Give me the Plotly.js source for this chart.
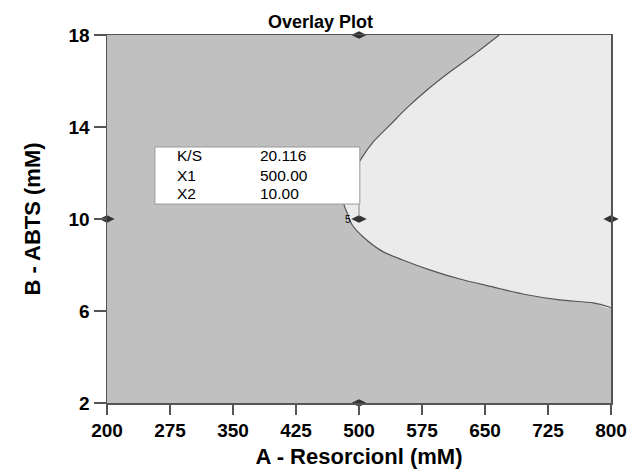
<!DOCTYPE html>
<html><head><meta charset="utf-8">
<script src="https://cdn.plot.ly/plotly-3.0.1.min.js"></script>
<style>html,body{margin:0;padding:0;background:#fff}#plot{width:641px;height:474px}</style>
</head><body><div id="plot"></div>
<script>
// Boundary of the light (feasible) region: A (mM) and B (mM)
const curveA = [667, 636, 608, 581, 557, 537, 517, 504, 495, 488, 483, 482, 486, 492, 505, 529, 552, 585, 620, 660, 695, 739, 779, 800];
const curveB = [18.0, 17.13, 16.39, 15.61, 14.83, 14.09, 13.35, 12.70, 12.13, 11.48, 10.91, 10.65, 10.26, 9.74, 9.22, 8.57, 8.22, 7.78, 7.39, 7.04, 6.74, 6.48, 6.35, 6.15];
// Design points
const designA = [200, 500, 500, 500, 800];
const designB = [10, 18, 10, 2, 10];
// Flag readout
const flagLabels = ['K/S', 'X1', 'X2'];
const flagValues = ['20.116', '500.00', '10.00'];
const xTicks = [200, 275, 350, 425, 500, 575, 650, 725, 800];
const yTicks = [2, 6, 10, 14, 18];
const xRange = [200, 800], yRange = [2, 18];

const fillA = curveA.concat([xRange[1]]);
const fillB = curveB.concat([yRange[1]]);

const traces = [
  {x: fillA, y: fillB, type: 'scatter', mode: 'lines', fill: 'toself', fillcolor: '#ebebeb', line: {width: 0, shape: 'spline', smoothing: 0.8}, hoverinfo: 'skip'},
  {x: curveA, y: curveB, type: 'scatter', mode: 'lines', line: {color: '#555', width: 1.2, shape: 'spline', smoothing: 0.8}, hoverinfo: 'skip'},
  {x: designA, y: designB, type: 'scatter', mode: 'markers', cliponaxis: false,
   marker: {symbol: 'diamond-wide', size: 11, color: '#333'}}
];

const font = 'Liberation Sans, Arial, sans-serif';
const annotations = [];
const rowY = [12.74, 11.91, 11.09];
flagLabels.forEach((l, i) => {
  annotations.push({x: 281, y: rowY[i], text: l, showarrow: false, xanchor: 'left', font: {family: font, size: 15.5, color: '#000'}});
  annotations.push({x: 380, y: rowY[i], text: flagValues[i], showarrow: false, xanchor: 'left', font: {family: font, size: 15.5, color: '#000'}});
});
annotations.push({x: 500, y: 10, text: '5', showarrow: false, xshift: -11, font: {family: font, size: 10, color: '#000'}});

const layout = {
  width: 641, height: 474,
  margin: {l: 107, r: 30, t: 35, b: 71},
  paper_bgcolor: '#fff', plot_bgcolor: '#c0c0c0',
  showlegend: false,
  title: {text: '<b>Overlay Plot</b>', font: {family: font, size: 18, color: '#000'}, x: 0.5, xanchor: 'center', y: 0.968, yanchor: 'top'},
  xaxis: {range: xRange, tickvals: xTicks, ticktext: xTicks.map(v => '<b>' + v + '</b>'),
    showgrid: false, zeroline: false, showline: true, mirror: true, linecolor: '#555', linewidth: 1.5,
    ticks: 'outside', ticklen: 10, tickcolor: '#555', tickwidth: 1.2,
    tickfont: {family: font, size: 19, color: '#000'},
    title: {text: '<b>A - Resorcionl (mM)</b>', font: {family: font, size: 22, color: '#000'}, standoff: 8}},
  yaxis: {range: yRange, tickvals: yTicks, ticktext: yTicks.map(v => '<b>' + v + '</b>'),
    showgrid: false, zeroline: false, showline: true, mirror: true, linecolor: '#555', linewidth: 1.5,
    ticks: 'outside', ticklen: 12, tickcolor: '#555', tickwidth: 1.2,
    tickfont: {family: font, size: 19, color: '#000'},
    title: {text: '<b>B - ABTS (mM)</b>', font: {family: font, size: 22, color: '#000'}, standoff: 22}},
  shapes: [
    {type: 'line', x0: 500, x1: 500, y0: 10.65, y1: 10.1, line: {color: '#888', width: 1}},
    {type: 'rect', x0: 257, x1: 501, y0: 10.65, y1: 13.13, fillcolor: '#fff', line: {color: '#999', width: 1}}
  ],
  annotations: annotations
};
Plotly.newPlot('plot', traces, layout, {displayModeBar: false, staticPlot: true});
</script></body></html>
